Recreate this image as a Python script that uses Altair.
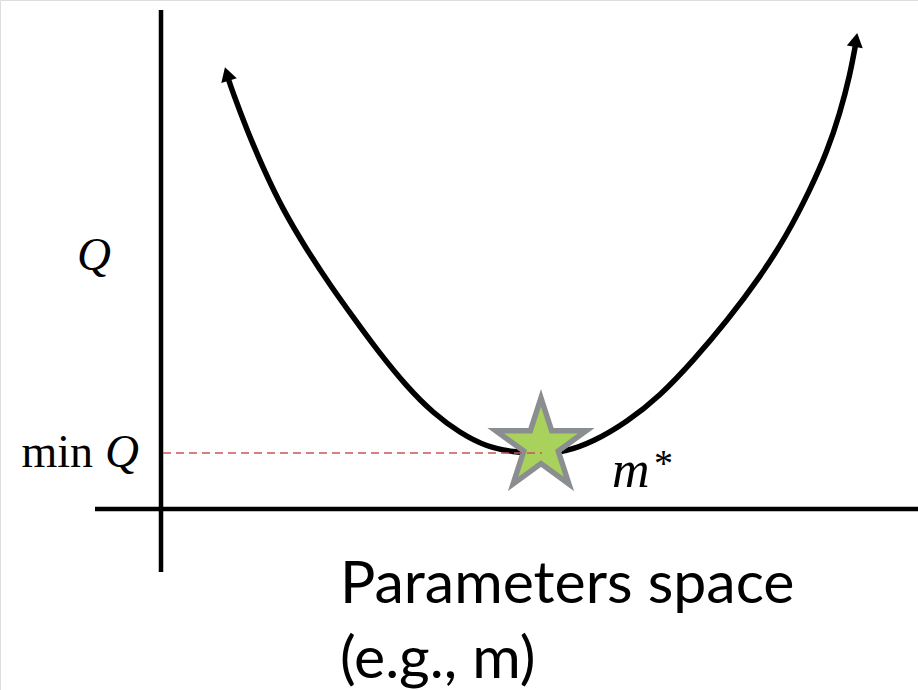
import numpy as np
import pandas as pd
import altair as alt

# Objective curve Q(m), sampled along the drawn bowl (origin where the axes cross)
curve_m = [66, 72, 86, 102, 122, 146, 169, 192, 216, 246, 272, 299, 326, 352,
           379, 404, 432, 466, 499, 532, 566, 599, 626, 649, 666, 679, 689, 695]
curve_q = [434, 416, 379, 341, 299, 259, 224, 192, 159, 122, 96, 76, 62, 57,
           55, 57, 67, 87, 113, 148, 188, 232, 274, 319, 357, 396, 434, 467]

# Arrow heads at both ends of the curve (position and pointing direction in degrees)
arrow_m = [66, 695]
arrow_q = [435, 469]
arrow_angle = [343, 10]

# Optimum m* and its objective value
m_star = 379
q_min = 56

# Axis lines
axis_x = [0, -66]
axis_x2 = [0, 757]
axis_y = [-63, 0]
axis_y2 = [499, 0]

X_DOMAIN = [-161, 757]
Y_DOMAIN = [-181, 509]

xs = alt.Scale(domain=X_DOMAIN, range=[0, 918], nice=False, zero=False)
ys = alt.Scale(domain=Y_DOMAIN, range=[690, 0], nice=False, zero=False)


def X(field="x"):
    return alt.X(f"{field}:Q", scale=xs, axis=None)


def Y(field="y"):
    return alt.Y(f"{field}:Q", scale=ys, axis=None)


# Five-pointed star drawn in the unit square [-1, 1]
angles = np.deg2rad(-90 + 36 * np.arange(10))
radii = np.where(np.arange(10) % 2 == 0, 1.0, 0.382)
pts = [f"{r * np.cos(a):.4f},{r * np.sin(a):.4f}" for r, a in zip(radii, angles)]
star_path = "M" + "L".join(pts) + "Z"

axes_df = pd.DataFrame({"x": axis_x, "x2": axis_x2, "y": axis_y, "y2": axis_y2})
curve_df = pd.DataFrame({"x": curve_m, "y": curve_q})
arrow_df = pd.DataFrame({"x": arrow_m, "y": arrow_q, "angle": arrow_angle})
star_df = pd.DataFrame({"x": [m_star + 1], "y": [q_min + 7.5]})
dash_df = pd.DataFrame({"x": [2], "x2": [m_star + 2], "y": [q_min]})

axes = alt.Chart(axes_df).mark_rule(color="black", strokeWidth=4.5).encode(
    x=X(), x2="x2:Q", y=Y(), y2="y2:Q"
)

curve = alt.Chart(curve_df).mark_line(
    color="black", strokeWidth=5.5, interpolate="basis", strokeCap="butt"
).encode(x=X(), y=Y())

arrows = alt.Chart(arrow_df).mark_point(
    shape="triangle-up", size=260, filled=True, color="black", opacity=1
).encode(x=X(), y=Y(), angle=alt.Angle("angle:Q", scale=None))

star = alt.Chart(star_df).mark_point(
    shape=star_path, size=9025, filled=True, fill="#a9d25c",
    stroke="#8b8e91", strokeWidth=5.5, opacity=1, strokeJoin="miter"
).encode(x=X(), y=Y())

dash = alt.Chart(dash_df).mark_rule(
    color="#c9545a", strokeWidth=1.6, strokeDash=[8, 5]
).encode(x=X(), x2="x2:Q", y=Y())

# Labels
label_rows = [
    # text, x, y, font, size, style, align
    ("Q", -67, 239, "Liberation Serif", 47, "italic", "center"),
    ("min", -68, 42, "Liberation Serif", 46, "normal", "right"),
    ("Q", -56, 42, "Liberation Serif", 47, "italic", "left"),
    ("m", 451, 22, "Liberation Serif", 52, "italic", "left"),
    ("*", 493, 33, "Liberation Serif", 38, "normal", "left"),
    ("Parameters space", 179, -94, "Lato", 59, "normal", "left"),
    ("(e.g., m)", 179, -169, "Lato", 59, "normal", "left"),
]

texts = []
for text, x, y, font, size, style, align in label_rows:
    texts.append(
        alt.Chart(pd.DataFrame({"x": [x], "y": [y], "t": [text]})).mark_text(
            font=font, fontSize=size, fontStyle=style, align=align,
            baseline="alphabetic", color="black"
        ).encode(x=X(), y=Y(), text="t:N")
    )

chart = alt.layer(axes, curve, star, dash, arrows, *texts).properties(
    width=918, height=690, padding=0, autosize=alt.AutoSizeParams(type="none")
).configure_view(stroke=None).configure(background="white")

chart.save("out.html", embed_options={"renderer": "svg", "actions": False})
